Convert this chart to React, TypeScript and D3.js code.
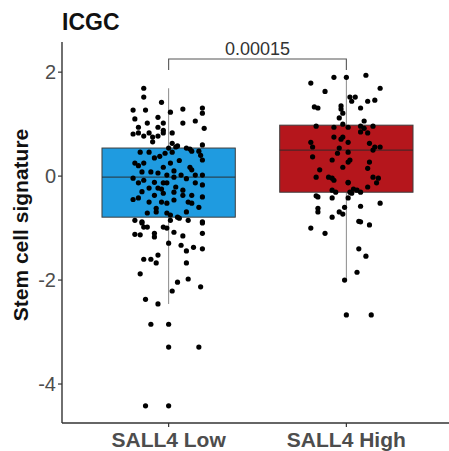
import React from "react";
import * as d3 from "d3";

const categories = ["SALL4 Low", "SALL4 High"];
const boxColors = ["#1F9BE0", "#B5161C"];
// box stats: [whiskerLow, q1, median, q3, whiskerHigh]
const lowBox = [-2.46, -0.79, -0.02, 0.54, 1.69];
const highBox = [-2.0, -0.31, 0.5, 0.98, 1.94];
const yTicks = [-4, -2, 0, 2];
const pLabel = "0.00015";
const title = "ICGC";
const yLabel = "Stem cell signature";

// jittered points: value and horizontal jitter (fraction of category step)
const lowValues = [
  1.69, 1.52, 1.42, 1.27, 1.27, 1.23, 1.29, 1.31, 1.21, 1.13, 1.1, 1.02, 1.02, 1.02, 1.06, 0.94, 0.92, 0.94,
  0.81, 0.83, 0.83, 0.75, 0.77, 0.83, 0.88, 0.83, 0.77, 0.63, 0.56, 0.54, 0.54, 0.6, 0.46, 0.46, 0.48, 0.48,
  0.44, 0.46, 0.4, 0.25, 0.25, 0.17, 0.25, 0.17, 0.31, 0.08, 0.08, 0.06, 0.02, -0.02, 0.02, 0.12, 0.02, 0.02,
  -0.04, -0.13, -0.08, -0.12, -0.13, -0.13, -0.13, -0.17, -0.23, -0.23, -0.21, -0.27, -0.37, -0.33, -0.31,
  -0.37, -0.37, -0.4, -0.42, -0.5, -0.5, -0.52, -0.46, -0.5, -0.52, -0.71, -0.69, -0.71, -0.75, -0.79, -0.69,
  -0.85, -0.88, -0.85, -0.81, -0.85, -0.88, -0.9, -0.98, -0.98, -0.98, -1.0, -1.08, -0.9, -1.12, -1.13, -1.1,
  -1.17, -1.15, -1.1, -1.29, -1.33, -1.44, -1.37, -1.4, -1.6, -1.6, -1.52, -1.67, -1.67, -1.88, -2.04, -1.98,
  -2.13, -2.21, -2.37, -2.46, -2.85, -3.29, -4.42,
  0.35, 0.3, 0.2, -0.05, -0.3, -0.6, -0.62, 0.1, 0.38, -0.45, 0.58, 0.66, 0.52, -0.25,
];
const lowJitter = [
  -0.14, -0.14, -0.04, -0.2, -0.13, 0.01, 0.08, 0.19, 0.19, -0.06, -0.19, -0.12, -0.03, 0.08, 0.15, -0.17, 0.2, -0.06,
  -0.2, -0.17, -0.11, -0.09, -0.06, -0.03, -0.03, 0.02, -0.14, 0.02, 0.04, 0, 0.1, 0.19, -0.16, -0.11, 0.13, 0.17,
  -0.02, 0.02, 0.18, -0.19, -0.14, -0.03, 0.01, 0.12, 0.19, -0.1, -0.15, -0.06, -0.01, 0.03, 0.07, 0.13, 0.15, 0.19,
  -0.2, -0.17, -0.14, -0.08, -0.03, -0.01, 0.15, 0.19, -0.11, -0.06, 0.04, 0.08, -0.08, -0.03, 0.03,
  0.08, 0.13, 0.19, -0.17, -0.11, -0.04, -0.01, 0.03, 0.11, 0.13, -0.12, -0.07, -0.01, 0.01, 0.05, 0.1,
  -0.19, -0.15, 0.01, 0.06, 0.11, 0.19, -0.15, -0.14, -0.12, -0.03, -0.01, 0.03, 0.19, -0.19, -0.16, -0.08,
  -0.08, 0.08, 0.19, 0, 0.07, 0.1, 0.14, 0.19, -0.14, -0.1, -0.06, -0.07, 0.1, -0.16, 0.05, 0.11,
  0.18, 0.02, -0.13, -0.06, -0.1, 0.17, -0.13,
  -0.08, 0.06, -0.17, 0.1, -0.15, 0.17, -0.07, 0.03, -0.05, -0.2, 0.05, -0.09, 0.12, -0.04,
];
const highValues = [
  1.79, 1.9, 1.9, 1.94, 1.69, 1.63, 1.52, 1.52, 1.44, 1.44, 1.46, 1.33, 1.31, 1.35, 1.29, 1.31, 1.21, 1.12, 1.06,
  0.96, 0.94, 1.0, 0.94, 0.96, 0.92, 0.96, 0.85, 0.83, 0.75, 0.75, 0.71, 0.65, 0.65, 0.63, 0.56, 0.54, 0.56,
  0.37, 0.44, 0.46, 0.5, 0.56, 0.31, 0.27, 0.27, 0.12, 0.17, 0.15, -0.02, -0.02, -0.04, -0.02, -0.13, -0.12,
  -0.21, -0.27, -0.25, 0.31, -0.08, -0.13, -0.04, -0.27, -0.31, -0.31, -0.38, -0.4, -0.42, -0.42, -0.33, -0.31,
  -0.6, -0.58, -0.52, -0.62, -0.69, -0.69, -0.73, -0.79, -0.87, -0.88, -0.94, -1.0, -1.1, -1.4, -1.54, -1.85,
  -2.0, -2.67,
];
const highJitter = [
  -0.2, -0.07, 0, 0.11, 0.19, -0.12, 0.02, 0.05, 0.03, 0.12, 0.16, -0.18, -0.16, -0.03, -0.03, 0.08, -0.02, -0.04, 0.1,
  -0.17, -0.07, -0.02, 0.01, 0.08, 0.1, 0.15, 0.08, 0.12, -0.07, -0.02, -0.03, -0.2, 0.01, 0.13, -0.19, -0.04, 0.16,
  -0.19, -0.05, 0.01, 0.15, 0.19, -0.08, 0.01, 0.13, -0.15, -0.02, 0.12, -0.17, -0.1, -0.08, 0.15, 0.17, 0.01,
  0.12, -0.08, 0.04, 0.02, -0.07, 0.01, 0.18, 0.06, 0.02, -0.06, -0.17, -0.16, -0.08, 0.01, 0.03, 0.08,
  -0.01, 0.08, 0.19, -0.16, -0.16, -0.04, -0.02, -0.08, 0.07, 0.08, 0.13, -0.2, -0.12, 0.07, 0.11, 0.06,
  -0.01, 0.14,
];

const W = 449;
const H = 451;
const M = { left: 62, top: 42, bottom: 423, right: 453 };
const FONT = "'Liberation Sans', Arial, sans-serif";

export default function App() {
  const y = d3.scaleLinear().domain([-4.75, 2.58]).range([M.bottom, M.top]);
  const x = d3.scalePoint<string>().domain(categories).range([M.left, M.right]).padding(0.6);
  const step = x.step();
  const boxW = step * 0.75;
  const boxes = [lowBox, highBox];
  const groups = [
    { vals: lowValues, jit: lowJitter },
    { vals: highValues, jit: highJitter },
  ];
  const r = 2.6;
  const x0 = x(categories[0])!;
  const x1 = x(categories[1])!;
  const bracketY = 59;
  const tip = 11;

  return (
    <svg width={W} height={H} style={{ position: "absolute", left: 0, top: 0, background: "#fff" }} fontFamily={FONT}>
      <rect width={W} height={H} fill="#fff" />
      {/* boxes */}
      {categories.map((c, i) => {
        const cx = x(c)!;
        const [wl, q1, med, q3, wh] = boxes[i];
        return (
          <g key={c}>
            <line x1={cx} x2={cx} y1={y(wh)} y2={y(q3)} stroke="#8a8a8a" strokeWidth={1} />
            <line x1={cx} x2={cx} y1={y(q1)} y2={y(wl)} stroke="#8a8a8a" strokeWidth={1} />
            <rect x={cx - boxW / 2} y={y(q3)} width={boxW} height={y(q1) - y(q3)} fill={boxColors[i]} stroke="#3d3d3d" strokeWidth={1} />
            <line x1={cx - boxW / 2} x2={cx + boxW / 2} y1={y(med)} y2={y(med)} stroke="#2a2a2a" strokeWidth={1.2} opacity={0.75} />
          </g>
        );
      })}
      {/* outliers at center */}
      {categories.map((c, i) => {
        const cx = x(c)!;
        const [wl, , , , wh] = boxes[i];
        return groups[i].vals
          .filter((v) => v < wl - 1e-9 || v > wh + 1e-9)
          .map((v, k) => <circle key={`o${i}-${k}`} cx={cx} cy={y(v)} r={r} fill="#000" />);
      })}
      {/* jittered points */}
      {categories.map((c, i) => {
        const cx = x(c)!;
        return groups[i].vals.map((v, k) => (
          <circle key={`p${i}-${k}`} cx={cx + groups[i].jit[k] * step} cy={y(v)} r={r} fill="#000" />
        ));
      })}
      {/* axes */}
      <line x1={M.left} x2={M.left} y1={M.top} y2={M.bottom} stroke="#333" strokeWidth={1.4} />
      <line x1={M.left} x2={M.right} y1={M.bottom} y2={M.bottom} stroke="#333" strokeWidth={1.4} />
      {yTicks.map((t) => (
        <g key={t}>
          <line x1={M.left - 4} x2={M.left} y1={y(t)} y2={y(t)} stroke="#333" strokeWidth={1.2} />
          <text x={M.left - 6} y={y(t)} dy="0.36em" textAnchor="end" fontSize={20} fill="#4d4d4d">
            {t}
          </text>
        </g>
      ))}
      {categories.map((c) => (
        <g key={c}>
          <line x1={x(c)!} x2={x(c)!} y1={M.bottom} y2={M.bottom + 4} stroke="#333" strokeWidth={1.2} />
          <text x={x(c)!} y={M.bottom + 24} textAnchor="middle" fontSize={21} fontWeight="bold" fill="#4d4d4d">
            {c}
          </text>
        </g>
      ))}
      {/* bracket */}
      <path
        d={`M${x0},${bracketY + tip} V${bracketY} H${x1} V${bracketY + tip}`}
        fill="none"
        stroke="#555"
        strokeWidth={1.1}
      />
      <text x={(x0 + x1) / 2} y={bracketY - 4} textAnchor="middle" fontSize={18} fill="#333">
        {pLabel}
      </text>
      {/* titles */}
      <text x={M.left} y={30} fontSize={23} fontWeight="bold" fill="#111">
        {title}
      </text>
      <text transform={`translate(28, 225) rotate(-90)`} textAnchor="middle" fontSize={21} fontWeight="bold" fill="#111">
        {yLabel}
      </text>
    </svg>
  );
}
